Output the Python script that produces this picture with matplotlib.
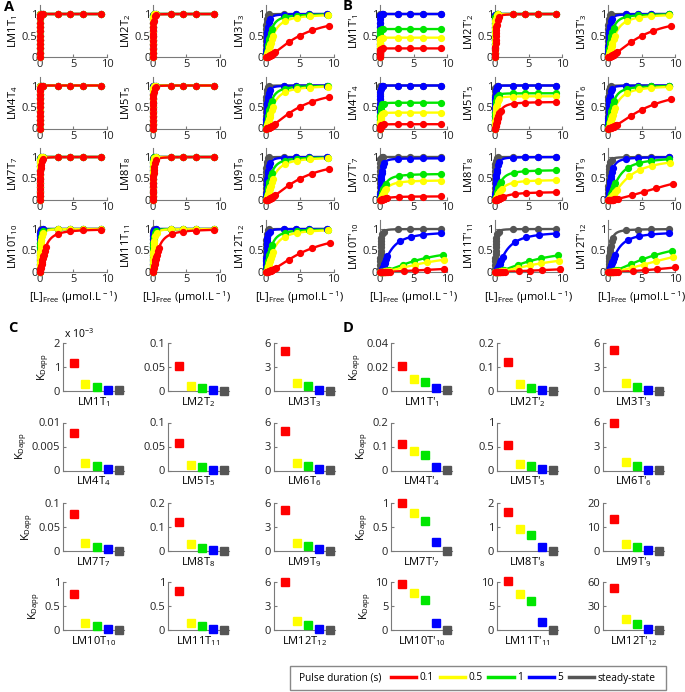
import numpy as np
import matplotlib
matplotlib.use("Agg")
import matplotlib.pyplot as plt
from matplotlib.lines import Line2D
from matplotlib.patches import Rectangle

# ======================================================================
# 1. DATOS
# ======================================================================
pulsos = ["0.1", "0.5", "1", "5", "steady-state"]
colores = ["#ff0000", "#ffff00", "#00e600", "#0000ff", "#555555"]

# ligando total de la titulación (umol/L) y receptor total
L_total = [0.0, 0.1, 0.2, 0.3, 0.4, 0.5, 0.6, 0.7, 0.8, 0.9, 1.0, 1.25, 1.5,
           3.7, 5.5, 7.4, 10.1]
R_total = 1.0
n_hill = 1.6

# K_Dapp por sistema (orden: 0.1, 0.5, 1, 5 s, steady-state)
kd_C = [
    [1.18e-3, 0.28e-3, 0.15e-3, 0.04e-3, 0.03e-3],
    [0.052, 0.011, 0.006, 0.0015, 0.0008],
    [5.04, 1.04, 0.58, 0.17, 0.03],
    [0.0079, 0.0016, 0.0010, 0.0003, 0.0002],
    [0.058, 0.011, 0.0076, 0.002, 0.001],
    [4.98, 0.99, 0.58, 0.15, 0.03],
    [0.078, 0.016, 0.009, 0.0035, 0.001],
    [0.12, 0.028, 0.014, 0.006, 0.002],
    [5.1, 1.04, 0.62, 0.2, 0.03],
    [0.76, 0.14, 0.08, 0.02, 0.01],
    [0.81, 0.15, 0.08, 0.02, 0.01],
    [5.96, 1.09, 0.65, 0.1, 0.03],
]
kd_D = [
    [0.021, 0.0097, 0.0072, 0.0022, 0.0005],
    [0.121, 0.028, 0.014, 0.003, 0.001],
    [5.13, 1.03, 0.53, 0.16, 0.03],
    [0.111, 0.081, 0.063, 0.016, 0.002],
    [0.54, 0.14, 0.09, 0.03, 0.01],
    [5.9, 1.1, 0.62, 0.12, 0.03],
    [0.99, 0.8, 0.63, 0.18, 0.01],
    [1.61, 0.92, 0.68, 0.18, 0.02],
    [13.2, 2.8, 1.5, 0.4, 0.1],
    [9.6, 7.8, 6.15, 1.5, 0.1],
    [10.3, 7.6, 5.95, 1.6, 0.1],
    [52.6, 13.4, 7.5, 1.3, 0.3],
]
ytop_C = [2e-3, 0.1, 6, 0.01, 0.1, 6, 0.1, 0.2, 6, 1, 1, 6]
ytop_D = [0.04, 0.2, 6, 0.2, 1, 6, 1, 2, 20, 10, 10, 60]

# meseta de la fracción marcada (A: todo 1)
bmax_A = [[1, 1, 1, 1, 1]] * 12
bmax_B = [
    [0.2, 0.45, 0.65, 1, 1],
    [1, 1, 1, 1, 1],
    [1, 1, 1, 1, 1],
    [0.1, 0.37, 0.6, 1, 1],
    [0.62, 0.75, 0.82, 1, 1],
    [1, 1, 1, 1, 1],
    [0.085, 0.46, 0.61, 0.97, 1],
    [0.19, 0.47, 0.7, 1, 1],
    [1, 1, 1, 1, 1],
    [0.14, 0.49, 0.6, 0.95, 1],
    [0.13, 0.44, 0.57, 0.95, 1],
    [1.6, 0.93, 0.83, 0.94, 1],
]

nombres_A = [f"LM{i}T$_\\mathrm{{{i}}}$" for i in range(1, 13)]
nombres_B = [f"LM{i}T'$_\\mathrm{{{i}}}$" for i in range(1, 13)]

# ======================================================================
# 2. FIGURA
# ======================================================================
plt.rcParams.update({
    "font.family": "Open Sans",
    "font.size": 8,
    "mathtext.fontset": "custom",
    "mathtext.rm": "Open Sans",
    "mathtext.it": "Open Sans:italic",
    "mathtext.bf": "Open Sans:bold",
    "axes.edgecolor": "#7a7a7a",
    "xtick.color": "#7a7a7a",
    "ytick.color": "#7a7a7a",
    "xtick.labelcolor": "#222222",
    "ytick.labelcolor": "#222222",
})

W, H = 685, 692
fig = plt.figure(figsize=(W / 100, H / 100), dpi=100)


def caja(izq, arriba, ancho, alto):
    return [izq / W, 1 - (arriba + alto) / H, ancho / W, alto / H]


def ocupacion(x, K):
    x = np.asarray(x, dtype=float)
    return x ** n_hill / (K ** n_hill + x ** n_hill)


def libre(Lt, K):
    Lt = np.asarray(Lt, dtype=float)
    lo, hi = np.zeros_like(Lt), Lt.copy()
    for _ in range(80):
        mid = 0.5 * (lo + hi)
        f = mid + R_total * ocupacion(mid, K) - Lt
        lo = np.where(f < 0, mid, lo)
        hi = np.where(f < 0, hi, mid)
    return 0.5 * (lo + hi)


def panel_curvas(ax, kds, bmaxs, nombre, con_xlabel):
    for j in [4, 3, 2, 1, 0]:
        K, B = kds[j], bmaxs[j]
        xp = libre(L_total, K)
        yp = B * ocupacion(xp, K)
        xs = np.concatenate([[0], np.logspace(-7, 1.1, 600)])
        xs = xs[xs <= xp.max()]
        ax.plot(xs, B * ocupacion(xs, K), color=colores[j], lw=1.7,
                clip_on=False, zorder=2)
        ax.plot(xp, yp, "o", color=colores[j], ms=4.2, clip_on=False, zorder=3)
    ax.set_xlim(0, 10)
    ax.set_ylim(0, 1.2)
    ax.set_xticks([0, 5, 10])
    ax.set_yticks([0, 0.5, 1])
    ax.set_yticklabels(["0", "0.5", "1"])
    ax.spines[["top", "right"]].set_visible(False)
    ax.tick_params(direction="in", length=2, pad=1.5, labelsize=8)
    ax.set_ylabel(nombre, fontsize=8, labelpad=1)
    if con_xlabel:
        ax.set_xlabel("[L]$_\\mathrm{Free}$ (µmol.L$^{\\,-1}$)", fontsize=8,
                      labelpad=3)


def panel_kd(ax, kds, top, nombre, con_ylabel, escala=1.0):
    for j in range(5):
        ax.plot(j + 1, kds[j] / escala, "s", color=colores[j], ms=5.5,
                clip_on=False, zorder=3)
    t = top / escala
    ax.set_xlim(0, 5.4)
    ax.set_ylim(0, t)
    ax.set_xticks([])
    ax.set_yticks([0, t / 2, t])
    ax.set_yticklabels([f"{v:g}" for v in [0, t / 2, t]])
    ax.spines[["top", "right"]].set_visible(False)
    ax.tick_params(direction="in", length=2, pad=2, labelsize=8)
    ax.set_xlabel(nombre, fontsize=8, labelpad=3)
    if con_ylabel:
        ax.set_ylabel("K$_\\mathrm{Dapp}$", fontsize=8, labelpad=2)
    if escala != 1.0:
        ax.text(0.02, 1.04, "x 10$^{-3}$", transform=ax.transAxes,
                fontsize=7.5, va="bottom")


# --- A y B ---
filas_ab = [57, 128.5, 200, 272]
cols_A = [39.5, 152.5, 266]
cols_B = [380, 495, 608]
alto_ab = 1.2 * 43
for k in range(12):
    r, c = divmod(k, 3)
    axA = fig.add_axes(caja(cols_A[c], filas_ab[r] - alto_ab, 67.5, alto_ab))
    panel_curvas(axA, kd_C[k], bmax_A[k], nombres_A[k], r == 3)
    axB = fig.add_axes(caja(cols_B[c], filas_ab[r] - alto_ab, 67, alto_ab))
    panel_curvas(axB, kd_D[k], bmax_B[k], nombres_B[k], r == 3)

# --- C y D ---
filas_cd = [343, 422.5, 503, 582]
cols_C = [63, 168, 274]
cols_D = [391, 497, 603]
for k in range(12):
    r, c = divmod(k, 3)
    axC = fig.add_axes(caja(cols_C[c], filas_cd[r], 60.75, 48))
    panel_kd(axC, kd_C[k], ytop_C[k], nombres_A[k], c == 0,
             escala=1e-3 if k == 0 else 1.0)
    axD = fig.add_axes(caja(cols_D[c], filas_cd[r], 60.75, 48))
    panel_kd(axD, kd_D[k], ytop_D[k], nombres_B[k], c == 0)

# --- letras de panel ---
for letra, (x, y) in zip("ABCD", [(4, 7), (343, 6), (8, 328), (343, 328)]):
    fig.text(x / W, 1 - y / H, letra, fontsize=10.5, fontweight="bold",
             va="center", ha="left")

# --- leyenda ---
fig.add_artist(Rectangle((290 / W, 1 - 690 / H), 376 / W, 24 / H,
                         transform=fig.transFigure, fill=False,
                         ec="#888888", lw=1))
fig.text(299 / W, 1 - 678 / H, "Pulse duration (s)", fontsize=7.3,
         va="center", ha="left")
manijas = [Line2D([], [], color=c, lw=2.5) for c in colores]
fig.legend(manijas, pulsos, loc="center left",
           bbox_to_anchor=(391 / W, 1 - 678 / H), ncol=5, frameon=False,
           handlelength=2.5, handletextpad=0.3, columnspacing=0.6,
           fontsize=7.3, borderpad=0, borderaxespad=0)

fig.savefig("out.png", dpi=100, facecolor="white")
